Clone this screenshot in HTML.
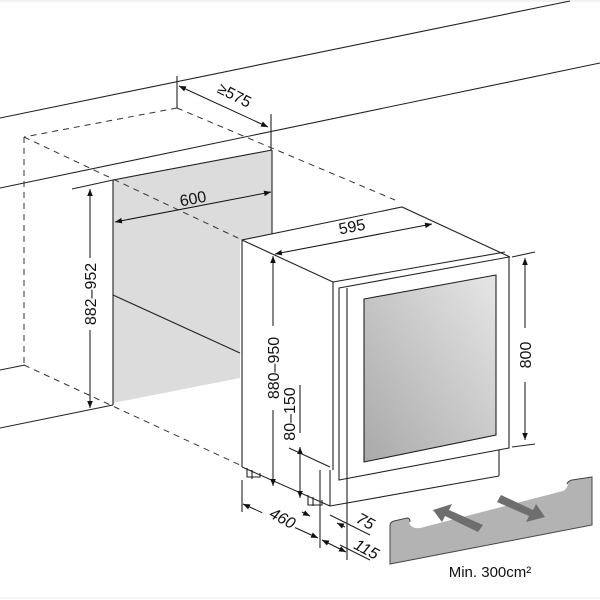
<!DOCTYPE html>
<html><head><meta charset="utf-8"><style>
html,body{margin:0;padding:0;background:#fff;}
svg{display:block;}
text{font-family:"Liberation Sans",sans-serif;fill:#111;}
</style></head><body>
<svg width="600" height="600" viewBox="0 0 600 600" xmlns="http://www.w3.org/2000/svg">
<defs>
<marker id="a" viewBox="0 0 10 10" refX="10" refY="5" markerWidth="7" markerHeight="7" orient="auto-start-reverse"><path d="M0,1 L10,5 L0,9 Z" fill="#111"/></marker>
<linearGradient id="g" x1="1" y1="0" x2="0" y2="1"><stop offset="0" stop-color="#e6e6e6"/><stop offset="1" stop-color="#a9a9a9"/></linearGradient>
</defs>
<line x1="0" y1="1" x2="600" y2="1" stroke="#e4e4e4" stroke-width="1"/>
<line x1="0" y1="598" x2="600" y2="598" stroke="#eee" stroke-width="1"/>
<g stroke="#222" stroke-width="1.1" fill="none">
<line x1="0" y1="118" x2="570" y2="1"/>
<line x1="0" y1="188" x2="600" y2="63"/>
<line x1="0" y1="370" x2="25" y2="365"/>
<line x1="0" y1="428" x2="113" y2="405"/>
<line x1="177" y1="76" x2="177" y2="108"/>
<line x1="271" y1="114" x2="271" y2="150"/>
<line x1="72" y1="189" x2="113" y2="180"/>
</g>
<g stroke="#333" stroke-width="1" fill="none" stroke-dasharray="6,5">
<line x1="177" y1="108" x2="24" y2="137"/>
<line x1="24" y1="137" x2="24" y2="365"/>
<line x1="177" y1="108" x2="395" y2="200"/>
<line x1="24" y1="365" x2="240" y2="465"/>
</g>
<polygon points="113,180 272,150 272,236 240,240 240,378 113,403" fill="#dcdcdc" stroke="none"/>
<line x1="24" y1="137" x2="240" y2="239" stroke="#333" stroke-width="1" stroke-dasharray="6,5"/>
<g stroke="#222" stroke-width="1.1" fill="none">
<line x1="113" y1="180" x2="113" y2="405"/>
<line x1="113" y1="180" x2="272" y2="150"/>
<line x1="272" y1="150" x2="272" y2="236"/>
<line x1="113" y1="295" x2="240" y2="353"/>
</g>
<g stroke="#111" stroke-width="1" fill="none">
<line x1="179" y1="86" x2="268" y2="127" marker-start="url(#a)" marker-end="url(#a)"/>
<line x1="90" y1="189" x2="90" y2="408" marker-start="url(#a)" marker-end="url(#a)"/>
<line x1="115" y1="222" x2="271" y2="192" marker-start="url(#a)" marker-end="url(#a)"/>
</g>
<rect x="81" y="258" width="18" height="72" fill="#fff"/>
<text x="0" y="0" font-size="16" text-anchor="middle" transform="translate(96,294) rotate(-90)">882–952</text>
<text x="0" y="0" font-size="16" text-anchor="middle" transform="translate(232,100) rotate(27)">≥575</text>
<text x="0" y="0" font-size="16" text-anchor="middle" transform="translate(194,204) rotate(-11)">600</text>
<!-- fridge -->
<polygon points="242,240 402,207 508,257 508,448 499,450 499,476 330,506 242,467" fill="#fff" stroke="none"/>
<g stroke="#222" stroke-width="1.1" fill="none">
<polyline points="242,467 242,240 402,207 510,257"/>
<line x1="242" y1="240" x2="333" y2="282"/>
<line x1="333" y1="282" x2="333" y2="470"/>
<line x1="333" y1="282" x2="505" y2="252"/>
<polygon points="339,288 509,257 509,448 339,480"/>
<line x1="347" y1="288" x2="347" y2="560"/>
<polygon points="364,299 496,275 496,435 364,462" fill="url(#g)"/>
<line x1="499" y1="450" x2="499" y2="476"/>
<line x1="330" y1="506" x2="499" y2="476"/>
<line x1="242" y1="467" x2="330" y2="506"/>
<line x1="330" y1="470" x2="330" y2="506"/>
<path d="M247,468 v9 h13 v-4 M252,470 v9 M308,495 v10 h14 v-5 M313,497 v9"/>
<line x1="320" y1="470" x2="320" y2="548"/>
<line x1="242" y1="480" x2="242" y2="512"/>
<line x1="512" y1="257" x2="535" y2="252"/>
<line x1="512" y1="447" x2="535" y2="444"/>
<line x1="300" y1="385" x2="300" y2="433"/>
<line x1="289" y1="448" x2="330" y2="467"/>
<line x1="330" y1="515" x2="370" y2="535"/>
<line x1="340" y1="545" x2="370" y2="560"/>
</g>
<g stroke="#111" stroke-width="1" fill="none">
<line x1="275" y1="254" x2="432" y2="224" marker-start="url(#a)" marker-end="url(#a)"/>
<line x1="273" y1="256" x2="273" y2="486" marker-start="url(#a)" marker-end="url(#a)"/>
<line x1="300" y1="447" x2="300" y2="498" marker-start="url(#a)" marker-end="url(#a)"/>
<line x1="525" y1="258" x2="525" y2="440" marker-start="url(#a)" marker-end="url(#a)"/>
<line x1="243" y1="504" x2="318" y2="538" marker-start="url(#a)" marker-end="url(#a)"/>
<line x1="322" y1="540" x2="346" y2="552" marker-start="url(#a)" marker-end="url(#a)"/>
<line x1="302" y1="512" x2="310" y2="516" marker-end="url(#a)"/>
<line x1="345" y1="527" x2="337" y2="523" marker-end="url(#a)"/>
</g>
<rect x="264" y="326" width="18" height="84" fill="#fff"/>
<rect x="516" y="328" width="18" height="54" fill="#fff"/>
<text x="0" y="0" font-size="16" text-anchor="middle" transform="translate(279,368) rotate(-90)">880–950</text>
<text x="0" y="0" font-size="16" text-anchor="middle" transform="translate(295,414) rotate(-90)">80–150</text>
<text x="0" y="0" font-size="16" text-anchor="middle" transform="translate(531,355) rotate(-90)">800</text>
<text x="0" y="0" font-size="16" text-anchor="middle" transform="translate(353,232) rotate(-11)">595</text>
<rect x="262" y="509" width="36" height="16" fill="#fff" transform="rotate(25 279 517)"/>
<text x="0" y="0" font-size="16" font-style="italic" text-anchor="middle" transform="translate(280,523) rotate(28)">460</text>
<text x="0" y="0" font-size="16" font-style="italic" text-anchor="middle" transform="translate(363,526) rotate(28)">75</text>
<text x="0" y="0" font-size="16" font-style="italic" text-anchor="middle" transform="translate(364,554) rotate(28)">115</text>
<!-- grille -->
<path d="M390,526 Q390,522 394,521 L407,518 Q410,518 410,522 Q412,528 420,527 L563,490 Q566,488 567,484 Q568,481 572,480 L592,477 L592,525 L390,564 Z" fill="#b3b3b3" stroke="#444" stroke-width="1"/>
<path d="M410,522 Q412,528 420,527 L563,490 Q566,488 567,484" fill="none" stroke="#fff" stroke-width="2"/>
<g fill="#6e6e6e">
<polygon points="433,510 452,504 449,510 483,525 478,532 445,516 442,522"/>
<polygon points="545,517 526,522 529,516 497,502 501,495 533,510 536,504"/>
</g>
<text x="490" y="577" font-size="15" text-anchor="middle">Min. 300cm²</text>
</svg>
</body></html>
